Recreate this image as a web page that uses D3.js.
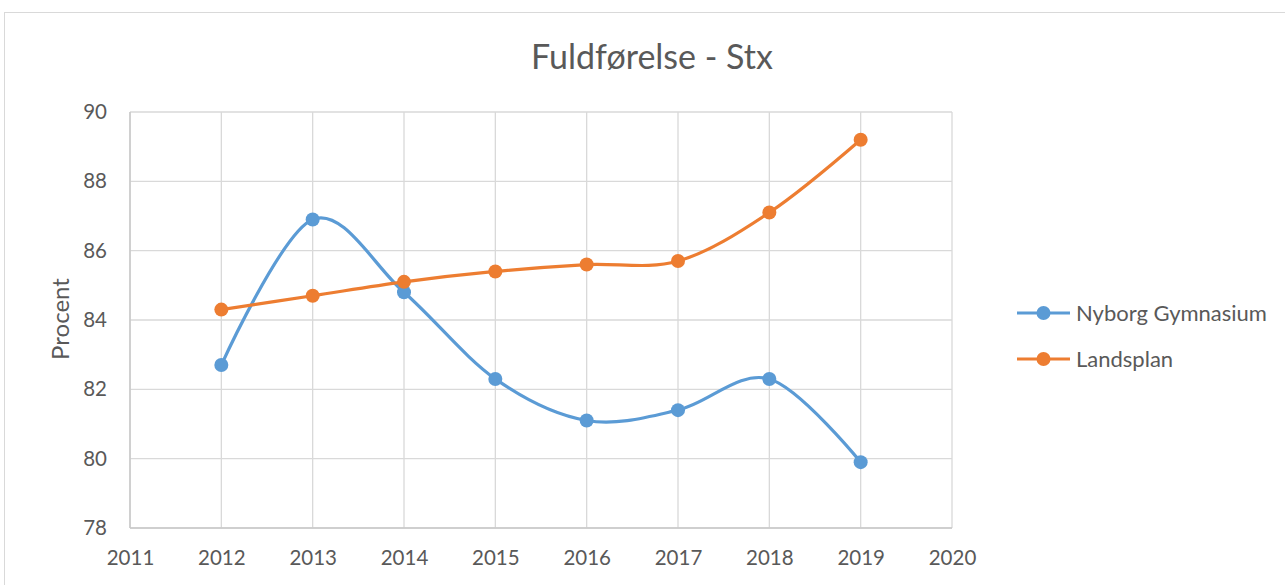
<!DOCTYPE html>
<html><head><meta charset="utf-8">
<script src="https://cdn.jsdelivr.net/npm/d3@7"></script>
<style>body{margin:0;background:#fff}svg{display:block}text{font-family:Lato,"Open Sans",sans-serif}</style>
</head><body>
<script>
const years = [2012, 2013, 2014, 2015, 2016, 2017, 2018, 2019];
const nyborg = [82.7, 86.9, 84.8, 82.3, 81.1, 81.4, 82.3, 79.9];
const landsplan = [84.3, 84.7, 85.1, 85.4, 85.6, 85.7, 87.1, 89.2];
const xTicks = [2011, 2012, 2013, 2014, 2015, 2016, 2017, 2018, 2019, 2020];
const yTicks = [78, 80, 82, 84, 86, 88, 90];
const seriesNames = ["Nyborg Gymnasium", "Landsplan"];
const colors = ["#5B9BD5", "#ED7D31"];

const W = 1285, H = 585;
const m = {left:130, right:952, top:112, bottom:528};
const svg = d3.select("body").append("svg").attr("width", W).attr("height", H);

svg.append("rect").attr("x",4.5).attr("y",12.5).attr("width",1300).attr("height",600)
  .attr("fill","#fff").attr("stroke","#d9d9d9").attr("stroke-width",1);

const x = d3.scaleLinear().domain([2011, 2020]).range([m.left, m.right]);
const y = d3.scaleLinear().domain([78, 90]).range([m.bottom, m.top]);

// gridlines
const g = svg.append("g");
g.selectAll(".hg").data(yTicks).join("line")
  .attr("x1", m.left).attr("x2", m.right)
  .attr("y1", d=>y(d)).attr("y2", d=>y(d))
  .attr("stroke","#d9d9d9").attr("stroke-width",1.3);
g.selectAll(".vg").data(xTicks).join("line")
  .attr("y1", m.top).attr("y2", m.bottom)
  .attr("x1", d=>x(d)).attr("x2", d=>x(d))
  .attr("stroke","#d9d9d9").attr("stroke-width",1.3);
// axis lines
svg.append("line").attr("x1",m.left).attr("x2",m.right).attr("y1",m.bottom).attr("y2",m.bottom).attr("stroke","#c8c8c8").attr("stroke-width",1.5);
svg.append("line").attr("x1",m.left).attr("x2",m.left).attr("y1",m.top).attr("y2",m.bottom).attr("stroke","#c8c8c8").attr("stroke-width",1.5);

// axes via d3
const yAxis = svg.append("g").attr("transform",`translate(${m.left},0)`)
  .call(d3.axisLeft(y).tickValues(yTicks).tickSize(0).tickPadding(23).tickFormat(d3.format("d")));
yAxis.select(".domain").remove();
yAxis.selectAll("text").attr("font-size",20.5).attr("fill","#595959").style("font-family","Lato");

const xAxis = svg.append("g").attr("transform",`translate(0,${m.bottom})`)
  .call(d3.axisBottom(x).tickValues(xTicks).tickSize(0).tickPadding(22).tickFormat(d3.format("d")));
xAxis.select(".domain").remove();
xAxis.selectAll("text").attr("font-size",20.5).attr("fill","#595959").style("font-family","Lato");

// title
svg.append("text").attr("x", 652).attr("y", 69).attr("text-anchor","middle")
  .attr("font-size",34).attr("fill","#595959").text("Fuldførelse - Stx");

// y label
svg.append("text").attr("transform","translate(69,319) rotate(-90)").attr("text-anchor","middle")
  .attr("font-size",24).attr("fill","#595959").text("Procent");

const line = d3.line().x((d,i)=>x(years[i])).y(d=>y(d)).curve(d3.curveCardinal.tension(0));
[nyborg, landsplan].forEach((s, k) => {
  svg.append("path").attr("d", line(s)).attr("fill","none").attr("stroke",colors[k])
    .attr("stroke-width",3.2).attr("stroke-linecap","round");
  svg.selectAll(".pt"+k).data(s).join("circle")
    .attr("cx",(d,i)=>x(years[i])).attr("cy",d=>y(d)).attr("r",7).attr("fill",colors[k]);
});

// legend
const leg = svg.append("g");
seriesNames.forEach((n,k)=>{
  const ly = 313 + k*46;
  leg.append("line").attr("x1",1017).attr("x2",1070).attr("y1",ly).attr("y2",ly).attr("stroke",colors[k]).attr("stroke-width",3.2);
  leg.append("circle").attr("cx",1043.5).attr("cy",ly).attr("r",7).attr("fill",colors[k]);
  leg.append("text").attr("x",1076).attr("y",ly).attr("dy","0.35em").attr("font-size",22).attr("fill","#595959").text(n);
});
</script>
</body></html>
